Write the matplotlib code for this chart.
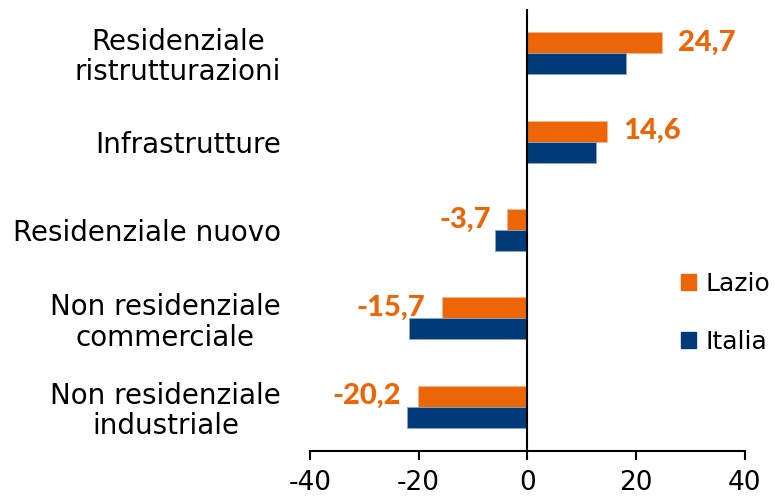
import matplotlib
matplotlib.use("Agg")
import matplotlib.pyplot as plt
from matplotlib.patches import Patch
import numpy as np

# categorie dall'alto verso il basso
categorie = ["Residenziale\nristrutturazioni", "Infrastrutture", "Residenziale nuovo",
             "Non residenziale\ncommerciale", "Non residenziale\nindustriale"]
lazio = [24.7, 14.6, -3.7, -15.7, -20.2]
italia = [18.1, 12.6, -5.9, -21.7, -22.1]
etichette_lazio = ["24,7", "14,6", "-3,7", "-15,7", "-20,2"]
xticks = [-40, -20, 0, 20, 40]

ARANCIO = "#EC6608"
BLU = "#003A78"

plt.rcParams["font.family"] = ["DejaVu Sans"]

fig = plt.figure(figsize=(7.75, 4.98), dpi=100)
ax = fig.add_axes([0.4, 0.0944, 0.561, 0.8876])

n = len(categorie)
y = np.arange(n)[::-1]
h = 0.2375

ax.barh(y + h / 2, lazio, height=h, color=ARANCIO, edgecolor="#f5b58a", linewidth=0.6)
ax.barh(y - h / 2, italia, height=h, color=BLU, edgecolor="#8fa6c4", linewidth=0.6)

for yi, v, lab in zip(y, lazio, etichette_lazio):
    off = 12 if v > 0 else -12
    ax.annotate(lab, (v, yi + h / 2), xytext=(off, 0), textcoords="offset points",
                ha="left" if v > 0 else "right", va="center",
                color=ARANCIO, fontsize=21, fontweight=900, family="Lato")

ax.axvline(0, color="black", linewidth=1.5)
ax.set_xlim(-40, 40)
ax.set_ylim(-0.5, n - 0.5)
ax.set_xticks(xticks)
ax.set_xticklabels([str(t) for t in xticks], fontsize=19)
ax.set_yticks(y)
ax.set_yticklabels(categorie, fontsize=20, ha="right", multialignment="center",
                   linespacing=1.1)
ax.tick_params(axis="y", length=0, pad=21)
ax.tick_params(axis="x", length=6.5, width=1.5, pad=7)

for s in ["top", "right", "left"]:
    ax.spines[s].set_visible(False)
ax.spines["bottom"].set_linewidth(1.5)

handles = [Patch(color=ARANCIO, label="Lazio"), Patch(color=BLU, label="Italia")]
ax.legend(handles=handles, loc="center left", bbox_to_anchor=(0.83, 0.313),
          frameon=False, fontsize=18, handlelength=0.6, handleheight=0.6,
          handletextpad=0.4, labelspacing=1.35, borderaxespad=0)

fig.savefig("out.png", dpi=100)
